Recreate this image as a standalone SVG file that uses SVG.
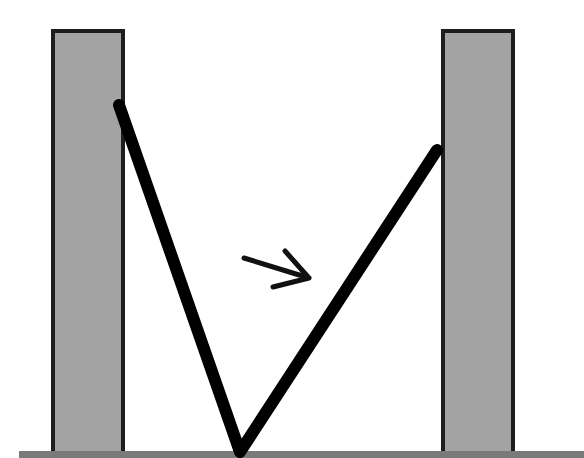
<svg xmlns="http://www.w3.org/2000/svg" width="584" height="458" viewBox="0 0 584 458">
<style>
.pillar{fill:#a3a3a3;stroke:#1e1e1e;stroke-width:4}
.rod{fill:none;stroke:#000;stroke-width:12;stroke-linecap:round;stroke-linejoin:round}
.arrow{fill:none;stroke:#111;stroke-width:5;stroke-linecap:round;stroke-linejoin:round}
</style>
<rect width="584" height="458" fill="#fff"/>
<g id="left-pillar"><rect class="pillar" x="53" y="31" width="70" height="422"/></g>
<g id="right-pillar"><rect class="pillar" x="443" y="31" width="70" height="422"/></g>
<g id="ground"><rect x="19" y="451" width="565" height="7" fill="#7a7a7a"/></g>
<g id="connectors">
<polyline class="rod" points="119,105 240,452 437,150"/>
<path class="arrow" d="M244,258 L309,278 M285,251 L309,278 L273,287"/>
</g>
</svg>
